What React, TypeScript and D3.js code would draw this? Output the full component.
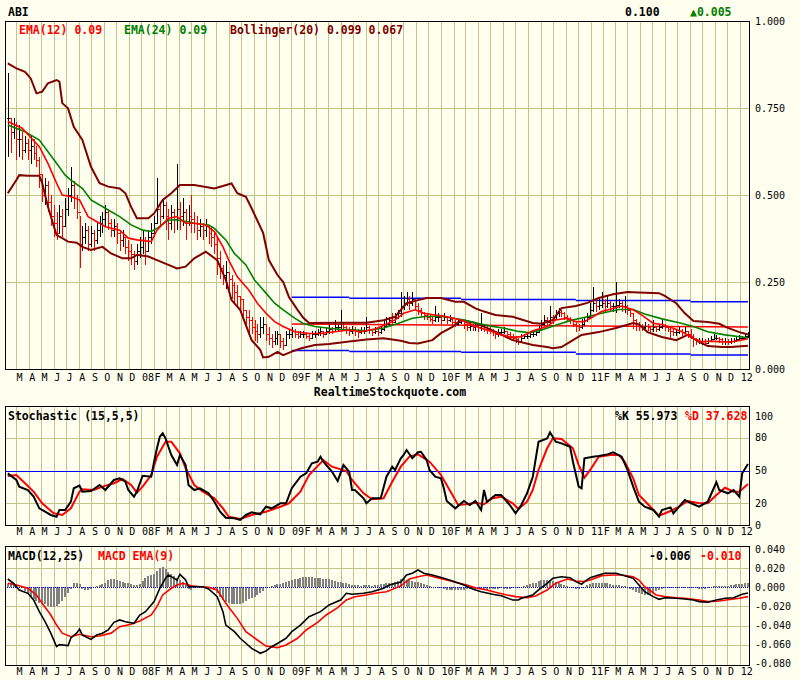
import React from 'react'
import * as d3 from 'd3'

// weekly bars, first bar is the week of 9 Feb 2007
const firstBar = new Date(2007, 1, 9)

const close = [
  // 2007
  0.72, 0.68, 0.70, 0.66, 0.66, 0.63, 0.65, 0.63, 0.64, 0.62, 0.60, 0.56, 0.50, 0.53, 0.48, 0.44,
  0.42, 0.39, 0.44, 0.41, 0.46, 0.50, 0.53, 0.49, 0.45, 0.36, 0.38, 0.40, 0.36, 0.39, 0.37, 0.40,
  0.42, 0.43, 0.45, 0.42, 0.40, 0.41, 0.39, 0.37, 0.38, 0.35, 0.34, 0.33, 0.31, 0.34, 0.35,
  // 2008
  0.37, 0.34, 0.38, 0.39, 0.42, 0.46, 0.44, 0.47, 0.44, 0.42, 0.45, 0.43, 0.46, 0.44, 0.45, 0.42,
  0.44, 0.43, 0.42, 0.40, 0.41, 0.40, 0.41, 0.39, 0.38, 0.36, 0.32, 0.29, 0.27, 0.28, 0.26, 0.24,
  0.22, 0.21, 0.20, 0.17, 0.15, 0.14, 0.12, 0.11, 0.10, 0.12, 0.13, 0.10, 0.09, 0.08, 0.09, 0.10,
  0.08, 0.07, 0.10,
  // 2009
  0.10, 0.11, 0.10, 0.095, 0.10, 0.10, 0.095, 0.09, 0.10, 0.10, 0.105, 0.11, 0.10, 0.11, 0.115, 0.11,
  0.12, 0.12, 0.13, 0.12, 0.115, 0.11, 0.115, 0.11, 0.105, 0.11, 0.11, 0.12, 0.115, 0.105, 0.11, 0.105,
  0.115, 0.125, 0.13, 0.14, 0.135, 0.15, 0.16, 0.18, 0.19, 0.20, 0.19, 0.20, 0.18, 0.17, 0.16, 0.155,
  0.15, 0.145, 0.14, 0.15,
  // 2010
  0.15, 0.14, 0.15, 0.14, 0.145, 0.135, 0.13, 0.135, 0.14, 0.13, 0.12, 0.125, 0.12, 0.125, 0.12, 0.13,
  0.12, 0.115, 0.11, 0.105, 0.10, 0.105, 0.105, 0.11, 0.10, 0.095, 0.09, 0.085, 0.08, 0.09, 0.095, 0.095,
  0.10, 0.10, 0.105, 0.115, 0.13, 0.14, 0.135, 0.15, 0.145, 0.16, 0.165, 0.16, 0.15, 0.145, 0.14, 0.13,
  0.125, 0.12, 0.13, 0.14,
  // 2011
  0.15, 0.17, 0.19, 0.18, 0.185, 0.19, 0.18, 0.19, 0.18, 0.18, 0.185, 0.19, 0.18, 0.18, 0.17, 0.16,
  0.14, 0.13, 0.125, 0.12, 0.125, 0.12, 0.115, 0.12, 0.115, 0.12, 0.125, 0.12, 0.115, 0.11, 0.105, 0.105,
  0.11, 0.105, 0.11, 0.10, 0.095, 0.085, 0.08, 0.08, 0.08, 0.075, 0.08, 0.085, 0.09, 0.09, 0.085, 0.08,
  0.08, 0.078, 0.08, 0.082,
  // 2012
  0.085, 0.09, 0.09, 0.095, 0.10,
]

const high = [
  0.85, 0.72, 0.72, 0.71, 0.70, 0.68, 0.67, 0.66, 0.67, 0.66, 0.64, 0.61, 0.56, 0.55, 0.54, 0.50,
  0.47, 0.45, 0.47, 0.46, 0.49, 0.52, 0.58, 0.54, 0.50, 0.44, 0.41, 0.42, 0.41, 0.41, 0.40, 0.42,
  0.44, 0.45, 0.47, 0.46, 0.43, 0.43, 0.42, 0.40, 0.40, 0.38, 0.37, 0.36, 0.34, 0.36, 0.38,
  0.40, 0.38, 0.40, 0.42, 0.44, 0.55, 0.48, 0.49, 0.48, 0.46, 0.47, 0.46, 0.59, 0.48, 0.49, 0.46,
  0.47, 0.50, 0.45, 0.44, 0.43, 0.42, 0.43, 0.41, 0.41, 0.39, 0.38, 0.34, 0.30, 0.31, 0.28, 0.27,
  0.25, 0.24, 0.21, 0.20, 0.17, 0.17, 0.15, 0.14, 0.13, 0.15, 0.15, 0.13, 0.12, 0.10, 0.11, 0.11,
  0.10, 0.09, 0.11,
  0.115, 0.12, 0.115, 0.11, 0.11, 0.11, 0.105, 0.10, 0.11, 0.11, 0.115, 0.12, 0.11, 0.12, 0.13, 0.12,
  0.14, 0.13, 0.17, 0.135, 0.125, 0.12, 0.125, 0.12, 0.115, 0.12, 0.12, 0.15, 0.125, 0.115, 0.12, 0.115,
  0.125, 0.14, 0.15, 0.15, 0.16, 0.16, 0.17, 0.22, 0.21, 0.22, 0.21, 0.22, 0.20, 0.19, 0.175, 0.165,
  0.16, 0.155, 0.15, 0.18,
  0.16, 0.155, 0.16, 0.15, 0.155, 0.145, 0.14, 0.145, 0.145, 0.14, 0.13, 0.135, 0.13, 0.135, 0.13, 0.16,
  0.13, 0.125, 0.12, 0.115, 0.11, 0.115, 0.115, 0.12, 0.11, 0.105, 0.10, 0.095, 0.09, 0.10, 0.10, 0.105,
  0.11, 0.11, 0.115, 0.125, 0.14, 0.155, 0.15, 0.18, 0.155, 0.17, 0.175, 0.17, 0.165, 0.155, 0.15, 0.14,
  0.135, 0.13, 0.145, 0.15,
  0.16, 0.19, 0.235, 0.20, 0.20, 0.22, 0.20, 0.21, 0.195, 0.19, 0.25, 0.20, 0.195, 0.21, 0.185, 0.175,
  0.16, 0.145, 0.135, 0.13, 0.135, 0.13, 0.125, 0.14, 0.125, 0.13, 0.14, 0.13, 0.125, 0.125, 0.115, 0.115,
  0.12, 0.115, 0.12, 0.11, 0.115, 0.10, 0.09, 0.09, 0.088, 0.085, 0.09, 0.095, 0.10, 0.098, 0.092, 0.088,
  0.088, 0.085, 0.088, 0.09,
  0.092, 0.098, 0.096, 0.103, 0.105,
]

const low = [
  0.61, 0.62, 0.66, 0.60, 0.61, 0.60, 0.62, 0.60, 0.59, 0.60, 0.58, 0.52, 0.48, 0.47, 0.45, 0.41,
  0.38, 0.37, 0.39, 0.38, 0.41, 0.44, 0.48, 0.46, 0.43, 0.29, 0.34, 0.36, 0.34, 0.35, 0.34, 0.36,
  0.38, 0.39, 0.41, 0.40, 0.38, 0.38, 0.36, 0.34, 0.35, 0.33, 0.31, 0.30, 0.285, 0.30, 0.32,
  0.33, 0.30, 0.34, 0.36, 0.38, 0.42, 0.41, 0.43, 0.40, 0.37, 0.40, 0.39, 0.40, 0.40, 0.41, 0.37,
  0.41, 0.39, 0.39, 0.37, 0.38, 0.37, 0.38, 0.36, 0.35, 0.33, 0.27, 0.26, 0.24, 0.23, 0.22, 0.20,
  0.19, 0.18, 0.17, 0.15, 0.12, 0.10, 0.10, 0.08, 0.075, 0.09, 0.10, 0.08, 0.07, 0.06, 0.07, 0.07,
  0.06, 0.055, 0.07,
  0.085, 0.09, 0.09, 0.085, 0.09, 0.09, 0.085, 0.08, 0.09, 0.09, 0.095, 0.095, 0.09, 0.10, 0.10, 0.10,
  0.105, 0.11, 0.11, 0.11, 0.10, 0.095, 0.10, 0.095, 0.09, 0.10, 0.10, 0.105, 0.10, 0.095, 0.10, 0.095,
  0.10, 0.11, 0.12, 0.125, 0.125, 0.135, 0.145, 0.15, 0.17, 0.18, 0.17, 0.18, 0.17, 0.155, 0.15, 0.14,
  0.14, 0.135, 0.13, 0.135,
  0.135, 0.13, 0.14, 0.13, 0.135, 0.125, 0.12, 0.125, 0.13, 0.115, 0.11, 0.11, 0.11, 0.11, 0.105, 0.11,
  0.105, 0.10, 0.10, 0.095, 0.085, 0.093, 0.095, 0.10, 0.09, 0.085, 0.08, 0.075, 0.07, 0.08, 0.085, 0.085,
  0.09, 0.093, 0.095, 0.105, 0.11, 0.125, 0.125, 0.13, 0.13, 0.145, 0.15, 0.15, 0.14, 0.135, 0.13, 0.12,
  0.105, 0.11, 0.115, 0.125,
  0.135, 0.15, 0.165, 0.165, 0.17, 0.175, 0.16, 0.175, 0.165, 0.165, 0.16, 0.175, 0.165, 0.16, 0.155, 0.15,
  0.115, 0.11, 0.11, 0.11, 0.115, 0.11, 0.105, 0.105, 0.105, 0.11, 0.115, 0.11, 0.105, 0.09, 0.095, 0.095,
  0.10, 0.095, 0.10, 0.09, 0.085, 0.063, 0.07, 0.072, 0.07, 0.068, 0.072, 0.078, 0.082, 0.083, 0.075, 0.07,
  0.07, 0.068, 0.072, 0.074,
  0.078, 0.082, 0.083, 0.087, 0.09,
]

// [week index, value]
const ema12: [number, number][] = [
  [0, .711], [5, .692], [11, .639], [14, .591], [17, .534], [19, .50], [22, .495], [25, .486], [28, .438],
  [32, .419], [34, .409], [39, .399], [42, .376], [45, .371], [50, .366], [52, .399], [56, .433], [59, .438],
  [62, .419], [65, .419], [69, .414], [72, .395], [75, .351], [77, .313], [80, .265], [84, .227], [87, .189],
  [90, .160], [93, .136], [96, .122], [100, .107], [105, .102], [109, .102], [114, .107], [119, .112],
  [123, .107], [128, .115], [131, .125], [135, .141], [138, .160], [142, .170], [145, .160], [149, .155],
  [152, .152], [154, .148], [158, .141], [162, .126], [165, .117], [169, .107], [172, .098], [176, .091],
  [179, .093], [183, .110], [188, .122], [191, .141], [195, .146], [198, .136], [201, .136], [204, .150],
  [207, .165], [211, .174], [214, .181], [218, .170], [221, .155], [225, .131], [228, .128], [232, .117],
  [235, .107], [239, .088], [242, .078], [245, .080], [249, .078], [252, .078], [255, .082], [258, .087],
]

const ema24: [number, number][] = [
  [0, .701], [6, .682], [11, .658], [17, .591], [20, .557], [22, .543], [26, .519], [29, .486], [34, .462],
  [39, .438], [43, .414], [47, .399], [50, .395], [52, .404], [56, .428], [59, .428], [63, .423], [65, .419],
  [70, .414], [72, .404], [76, .371], [79, .332], [83, .299], [86, .256], [90, .218], [93, .189], [96, .170],
  [100, .146], [103, .131], [107, .122], [112, .117], [116, .114], [121, .112], [125, .110], [131, .118],
  [136, .131], [141, .146], [145, .150], [150, .152], [154, .148], [159, .141], [164, .131], [168, .124],
  [173, .117], [178, .108], [182, .104], [186, .112], [191, .126], [196, .139], [202, .150], [207, .160],
  [213, .171], [218, .171], [222, .158], [228, .144], [234, .133], [239, .122], [244, .107], [250, .098],
  [258, .090],
]

const bbUpper: [number, number][] = [
  [0, .878], [3, .864], [6, .854], [8, .835], [10, .792], [12, .797], [14, .821], [17, .830], [18, .826],
  [19, .764], [21, .749], [23, .696], [26, .658], [29, .581], [32, .534], [35, .524], [39, .519], [41, .505],
  [43, .466], [45, .433], [49, .433], [51, .447], [54, .486], [57, .505], [60, .529], [65, .529], [72, .519],
  [78, .533], [80, .505], [83, .495], [85, .462], [89, .391], [91, .313], [94, .270], [96, .250], [98, .207],
  [101, .170], [103, .147], [105, .132], [115, .133], [125, .133], [131, .140], [135, .150], [137, .170],
  [139, .189], [143, .198], [146, .204], [151, .204], [156, .193], [159, .193], [163, .174], [166, .165],
  [170, .155], [176, .150], [183, .132], [186, .130], [190, .141], [193, .175], [198, .181], [202, .190],
  [206, .204], [211, .215], [216, .221], [220, .220], [227, .218], [229, .210], [233, .189], [236, .160],
  [239, .138], [244, .135], [248, .130], [251, .118], [255, .106], [258, .099],
]

const bbLower: [number, number][] = [
  [0, .505], [3, .543], [4, .557], [7, .555], [11, .555], [12, .534], [14, .466], [17, .385], [19, .376],
  [21, .366], [24, .363], [26, .351], [29, .342], [33, .351], [36, .332], [40, .318], [43, .318], [45, .328],
  [49, .323], [52, .313], [56, .299], [59, .289], [62, .294], [65, .318], [69, .337], [73, .313], [76, .256],
  [78, .198], [81, .170], [83, .126], [85, .083], [88, .055], [89, .033], [91, .035], [94, .049], [96, .040],
  [99, .050], [102, .059], [107, .069], [112, .072], [119, .079], [125, .085], [131, .088], [137, .081],
  [140, .075], [143, .073], [148, .083], [151, .103], [155, .121], [158, .141], [163, .132], [167, .118],
  [171, .103], [176, .083], [183, .069], [188, .063], [190, .060], [193, .063], [197, .083], [200, .098],
  [206, .106], [212, .118], [218, .132], [220, .128], [223, .106], [228, .092], [233, .083], [237, .098],
  [241, .078], [244, .066], [249, .063], [252, .063], [258, .067],
]

// support / resistance channel segments [fromWeek, toWeek, top, bottom]
const channel: [number, number, number, number][] = [
  [99, 119, .206, .053], [119, 158, .203, .050], [158, 198, .200, .048], [198, 238, .197, .043], [238, 258, .193, .040],
]
const trendLine: [number, number][] = [[99, .129], [258, .121]]

const stochK: [number, number][] = [
  [0, 47.4], [3, 41.3], [4, 35.2], [7, 32.1], [9, 26], [11, 15.3], [13, 12.2], [15, 9.2], [17, 7.6], [18, 13.8],
  [20, 13.8], [22, 21.4], [23, 33.7], [25, 36.1], [26, 30.6], [29, 31.2], [32, 36.7], [34, 32.1], [37, 41.3],
  [39, 42.8], [41, 39.7], [42, 32.1], [44, 26], [45, 30.6], [47, 45.2], [50, 44.3], [51, 58.1], [52, 70.4],
  [53, 81], [54, 84.1], [55, 79.5], [57, 64.2], [59, 55], [60, 64.2], [62, 55], [63, 36.7], [65, 32.1],
  [67, 33.7], [70, 29.1], [72, 21.4], [74, 12.2], [76, 6.7], [79, 6.1], [81, 4.6], [83, 9.2], [85, 11.6],
  [88, 9.8], [90, 16.8], [92, 15.3], [95, 19.9], [97, 19.9], [99, 33.7], [102, 44.3], [104, 47.4], [106, 56.6],
  [108, 58.1], [109, 62.7], [110, 58.1], [113, 48.9], [115, 40.4], [117, 55], [119, 48.9], [120, 32.1],
  [121, 32.1], [124, 24.5], [125, 19.9], [127, 24.5], [130, 24.5], [132, 44.3], [134, 53.5], [135, 50.5],
  [137, 61.2], [138, 64.2], [139, 68.8], [141, 61.2], [143, 66.7], [144, 67.2], [146, 59.6], [147, 50.5],
  [149, 44.3], [151, 42.8], [152, 33.7], [153, 22], [156, 15.3], [159, 22], [161, 18.3], [163, 22],
  [165, 13.8], [166, 32.1], [167, 21.4], [170, 27.5], [172, 27.5], [175, 18.3], [177, 10.7], [179, 18.3],
  [181, 29.1], [183, 44.3], [185, 76.4], [188, 79.5], [189, 85], [191, 76.4], [193, 74.9], [196, 71.8],
  [197, 58.1], [199, 35.2], [200, 33.7], [201, 61.2], [204, 62.7], [206, 63.3], [209, 64.8], [211, 66.7],
  [214, 62.7], [216, 50.5], [218, 35.2], [220, 21.4], [222, 16.8], [225, 13.8], [227, 7.6], [228, 13.8],
  [231, 16.2], [232, 10.7], [234, 16.8], [236, 22.9], [239, 19], [241, 16.8], [244, 21.4], [247, 39.2],
  [248, 32.1], [251, 29.1], [253, 32.1], [255, 26], [256, 47.4], [258, 55.973],
]

const stochD: [number, number][] = [
  [0, 45], [3, 45.9], [6, 38.3], [9, 30.6], [12, 19.9], [16, 10.7], [19, 9.2], [22, 15.3], [25, 30.6],
  [26, 32.7], [30, 32.1], [33, 35.2], [37, 38.3], [40, 42.2], [43, 36.7], [45, 29.7], [47, 35.2], [50, 45.9],
  [52, 62.7], [55, 76.4], [57, 76.4], [60, 65.8], [62, 52], [65, 36.7], [68, 30.6], [72, 24.5], [75, 15.3],
  [77, 7.6], [81, 5.5], [85, 9.2], [90, 12.2], [95, 16.8], [98, 19.9], [102, 30.6], [105, 45.9], [110, 59.6],
  [113, 53.5], [118, 49.5], [120, 41.3], [124, 29.1], [127, 23.6], [131, 24.5], [134, 39.7], [137, 53.5],
  [140, 62.7], [143, 64.8], [147, 58.1], [151, 45.9], [154, 32.1], [157, 18.3], [160, 19], [163, 20.5],
  [166, 19], [169, 24.5], [172, 26], [176, 19.9], [178, 14.7], [181, 21.4], [183, 32.1], [185, 50.5],
  [188, 70.4], [190, 79.5], [193, 78.9], [197, 70.4], [199, 55], [201, 43.4], [203, 50.5], [206, 62.7],
  [210, 64.2], [213, 64.2], [215, 58.1], [218, 42.8], [220, 27.5], [224, 16.8], [227, 8.5], [231, 12.8],
  [234, 16.8], [237, 22], [241, 19.9], [244, 19.9], [247, 27.5], [250, 34.2], [253, 30.6], [255, 30.6],
  [258, 37.628],
]

const macd: [number, number][] = [
  [0, .0087], [2, .0042], [4, -.0028], [7, -.0063], [9, -.0133], [11, -.0255], [13, -.036], [15, -.048],
  [16, -.055], [17, -.062], [18, -.060], [21, -.061], [22, -.053], [24, -.048], [25, -.0437], [26, -.050],
  [29, -.0545], [31, -.050], [33, -.048], [35, -.0447], [37, -.0367], [39, -.0342], [41, -.036], [44, -.0377],
  [46, -.029], [48, -.0255], [51, -.015], [53, -.001], [55, .0094], [56, .0129], [58, .0094], [59, .0076],
  [60, .0136], [62, .0076], [63, .0006], [66, .0006], [68, .0006], [70, -.0018], [73, -.0098], [75, -.0255],
  [76, -.0395], [79, -.0465], [81, -.0534], [83, -.0586], [85, -.0639], [88, -.0691], [90, -.0667],
  [92, -.0622], [95, -.057], [97, -.0534], [99, -.0465], [102, -.0395], [105, -.0308], [109, -.0255],
  [112, -.0185], [116, -.0133], [118, -.0063], [120, -.0073], [124, -.0063], [127, -.0046], [131, -.001],
  [133, .0024], [137, .0055], [139, .0129], [141, .0147], [143, .0181], [145, .0147], [148, .0129],
  [152, .0094], [155, .0066], [159, .0024], [162, -.0018], [165, -.0046], [169, -.0073], [172, -.0088],
  [176, -.0133], [178, -.0133], [179, -.0115], [183, -.008], [185, -.0028], [188, .0042], [190, .0094],
  [193, .0111], [196, .0101], [198, .0059], [200, .0031], [201, .0059], [203, .0101], [206, .0129],
  [208, .0147], [212, .0147], [215, .0122], [218, .0094], [220, .0024], [222, -.0046], [225, -.0098],
  [227, -.0126], [229, -.0109], [233, -.0115], [236, -.0122], [239, -.0133], [241, -.015], [244, -.0157],
  [247, -.0133], [250, -.0115], [253, -.0109], [256, -.0073], [258, -.006],
]

const macdSignal: [number, number][] = [
  [0, .0042], [3, .0024], [7, -.001], [10, -.008], [12, -.0168], [15, -.029], [17, -.0395], [19, -.048],
  [22, -.0517], [25, -.0492], [29, -.0517], [32, -.051], [36, -.048], [39, -.0412], [43, -.0387],
  [46, -.0353], [50, -.029], [52, -.0203], [54, -.008], [57, -.001], [59, .0024], [61, .0042], [64, .0017],
  [67, .0006], [70, 0], [73, -.0028], [76, -.0168], [80, -.0325], [83, -.0465], [87, -.0552], [90, -.0615],
  [94, -.0632], [97, -.0604], [101, -.0534], [104, -.0447], [108, -.0367], [111, -.029], [115, -.0213],
  [118, -.0133], [121, -.0098], [125, -.008], [128, -.0063], [132, -.0046], [137, .0015], [140, .0087],
  [143, .0111], [146, .0129], [149, .0105], [153, .0076], [156, .0052], [160, .0024], [163, -.0004],
  [167, -.0028], [170, -.0052], [174, -.008], [177, -.0098], [181, -.0109], [184, -.0091], [188, -.0028],
  [191, .0042], [195, .0087], [198, .0066], [201, .0059], [204, .0087], [207, .0122], [211, .0129],
  [214, .0129], [218, .0111], [220, .0076], [222, .0006], [226, -.008], [229, -.0098], [233, -.0109],
  [236, -.0115], [241, -.0133], [244, -.015], [248, -.0143], [251, -.013], [255, -.0115], [258, -.0098],
]

// weekly MACD histogram
const macdHist = [
  .003, .004, .004, .003, 0, -.001, -.004, -.007, -.010, -.012, -.014, -.016, -.018, -.018, -.020, -.021,
  -.021, -.020, -.017, -.014, -.010, -.006, -.002, .004, .005, .003, -.002, -.003, -.003, -.002, 0, .001,
  .002, .003, .005, .008, .009, .009, .008, .007, .006, .005, .004, .003, .002, .002, .003, .007,
  .010, .012, .013, .014, .017, .020, .021, .019, .016, .014, .012, .010, .008, .006, .002, -.002,
  -.003, -.001, .001, .001, .001, 0, 0, -.001, -.003, -.006, -.010, -.013, -.015, -.016, -.017, -.018,
  -.018, -.017, -.016, -.014, -.012, -.011, -.010, -.008, -.006, -.004, -.001, 0, .001, .002, .003, .003,
  .005, .006, .007, .008, .009, .009, .010, .011, .011, .011, .011, .010, .010, .010, .009, .009,
  .009, .008, .007, .006, .006, .005, .004, .003, .002, .002, .002, .001, .002, .002, .002, .001,
  .002, .002, .003, .003, .004, .004, .005, .006, .007, .009, .009, .008, .008, .007, .006, .006,
  .004, .003, .002, .001, 0, 0, -.001, -.001, -.002, -.003, -.003, -.003, -.003, -.003, -.003, -.003,
  -.002, -.002, -.002, -.002, -.002, -.002, -.002, -.003, -.002, -.002, -.002, -.002, -.001, -.002, -.002, -.002,
  -.001, -.001, -.001, 0, .001, .002, .003, .004, .005, .007, .008, .008, .008, .007, .007, .006,
  .005, .003, .002, .001, 0, -.001, -.002, -.002, -.001, 0, .002, .003, .004, .004, .004, .004,
  .004, .004, .003, .002, .002, .002, .001, .001, 0, -.002, -.003, -.005, -.006, -.007, -.008, -.008,
  -.007, -.005, -.004, -.003, -.002, -.001, -.001, -.001, -.001, -.001, -.001, -.001, -.001, -.001, -.001, -.001,
  -.001, -.002, -.002, -.002, -.001, 0, .001, .001, .001, .001, .001, .001, .002, .002, .003, .003,
  .003, .004, .004,
]

const priceTicks = [0, 0.25, 0.5, 0.75, 1]
const stochTicks = [0, 20, 50, 80, 100]
const macdTicks = [0.04, 0.02, 0, -0.02, -0.04, -0.06, -0.08]
const monthLetters = 'JFMAMJJASOND'

const BG = '#FFFFF0'
const GRID = '#C3C38A'
const MAROON = '#800000'
const FONT = "'DejaVu Sans Mono', monospace"

const L = 5
const R = 750
const barDate = (i: number) => d3.timeDay.offset(firstBar, i * 7)
const x = d3.scaleTime().domain([new Date(2007, 1, 1), new Date(2012, 0, 25)]).range([4.5, R])
const months = d3.timeMonth.range(new Date(2007, 2, 1), new Date(2012, 1, 1))
const snap = (v: number) => Math.round(v) + 0.5

const yPrice = d3.scaleLinear().domain([0, 1]).range([369, 21])
const yStoch = d3.scaleLinear().domain([0, 100]).range([525, 416])
const yMacd = d3.scaleLinear().domain([-0.08, 0.04]).range([663.7, 549.1])

const pathOf = (data: [number, number][], y: d3.ScaleLinear<number, number>) =>
  d3.line<[number, number]>().x(d => x(barDate(d[0]))).y(d => y(d[1]))(data) || ''

const Grid = ({ top, bottom, hLines, y }: { top: number; bottom: number; hLines: number[]; y: d3.ScaleLinear<number, number> }) => (
  <g stroke={GRID} strokeWidth={1} shapeRendering="crispEdges">
    {months.map((m, i) => (
      <line key={i} x1={snap(x(m))} x2={snap(x(m))} y1={top} y2={bottom} />
    ))}
    {hLines.map(v => (
      <line key={v} x1={L} x2={R} y1={snap(y(v))} y2={snap(y(v))} />
    ))}
  </g>
)

const MonthLabels = ({ y }: { y: number }) => (
  <g fontSize={10} fill="#000">
    {months.map((m, i) => (
      <text key={i} x={x(m) + 0.5} y={y}>
        {m.getMonth() === 0 ? d3.timeFormat('%y')(m) : monthLetters[m.getMonth()]}
      </text>
    ))}
  </g>
)

const Frame = ({ top, bottom }: { top: number; bottom: number }) => (
  <rect x={L + 0.5} y={top + 0.5} width={R - L - 1} height={bottom - top - 1} fill="none" stroke="#000" strokeWidth={1} shapeRendering="crispEdges" />
)

const Bars = () => {
  let up = ''
  let down = ''
  close.forEach((c, i) => {
    const px = snap(x(barDate(i)))
    const open = i > 0 ? close[i - 1] : c
    const seg = `M${px},${yPrice(high[i])}V${yPrice(low[i])}M${px - 1.5},${snap(yPrice(open))}H${px}M${px},${snap(yPrice(c))}H${px + 1.5}`
    if (i > 0 && c < close[i - 1]) down += seg
    else up += seg
  })
  return (
    <g fill="none" strokeWidth={1} shapeRendering="crispEdges">
      <path d={up} stroke="#000" />
      <path d={down} stroke="#FF0000" />
    </g>
  )
}

export default function App() {
  const last = close.length - 1
  const change = close[last] - close[last - 1]
  const lastOf = (s: [number, number][]) => s[s.length - 1][1]

  return (
    <svg width={800} height={680} style={{ position: 'absolute', left: 0, top: 0, display: 'block' }} fontFamily={FONT}>
      <defs>
        <clipPath id="clipMain"><rect x={L} y={21} width={R - L} height={348} /></clipPath>
        <clipPath id="clipMacd"><rect x={L} y={546} width={R - L} height={119} /></clipPath>
      </defs>
      <rect width={800} height={680} fill={BG} />

      {/* ---------- price panel ---------- */}
      <Grid top={21} bottom={369} hLines={[0.25, 0.5, 0.75]} y={yPrice} />
      <g clipPath="url(#clipMain)">
        <g stroke="#0000FF" strokeWidth={1.5}>
          {channel.map((s, i) => (
            <g key={i}>
              <line x1={x(barDate(s[0]))} x2={x(barDate(s[1]))} y1={yPrice(s[2])} y2={yPrice(s[2])} />
              <line x1={x(barDate(s[0]))} x2={x(barDate(s[1]))} y1={yPrice(s[3])} y2={yPrice(s[3])} />
            </g>
          ))}
        </g>
        <path d={pathOf(trendLine, yPrice)} stroke="#FF0000" strokeWidth={1.5} fill="none" />
        <Bars />
        <path d={pathOf(bbUpper, yPrice)} stroke={MAROON} strokeWidth={2} fill="none" />
        <path d={pathOf(bbLower, yPrice)} stroke={MAROON} strokeWidth={2} fill="none" />
        <path d={pathOf(ema24, yPrice)} stroke="#008000" strokeWidth={1.6} fill="none" />
        <path d={pathOf(ema12, yPrice)} stroke="#FF0000" strokeWidth={1.6} fill="none" />
      </g>
      <Frame top={21} bottom={370} />
      <g fontSize={10}>
        {priceTicks.map(v => (
          <text key={v} x={755} y={yPrice(v) + 3.5}>{v.toFixed(3)}</text>
        ))}
      </g>
      <MonthLabels y={381} />
      <g fontSize={11.5} fontWeight="bold">
        <text x={8} y={16}>ABI</text>
        <text x={625} y={16}>{close[last].toFixed(3)}</text>
        <text x={690} y={16} fill="#008000">{'\u25B2' + change.toFixed(3)}</text>
        <text x={19} y={34} fill="#FF0000">{`EMA(12) ${lastOf(ema12).toFixed(2)}`}</text>
        <text x={124} y={34} fill="#008000">{`EMA(24) ${lastOf(ema24).toFixed(2)}`}</text>
        <text x={230} y={34} fill={MAROON}>{`Bollinger(20) ${lastOf(bbUpper).toFixed(3)} ${lastOf(bbLower).toFixed(3)}`}</text>
        <text x={390} y={396} textAnchor="middle">RealtimeStockquote.com</text>
      </g>

      {/* ---------- stochastic panel ---------- */}
      <Grid top={406} bottom={525} hLines={[20, 80]} y={yStoch} />
      <line x1={L} x2={R} y1={snap(yStoch(50))} y2={snap(yStoch(50))} stroke="#0000FF" strokeWidth={1.2} />
      <path d={pathOf(stochD, yStoch)} stroke="#FF0000" strokeWidth={2} fill="none" />
      <path d={pathOf(stochK, yStoch)} stroke="#000" strokeWidth={2} fill="none" />
      <Frame top={406} bottom={526} />
      <g fontSize={10}>
        {stochTicks.map(v => (
          <text key={v} x={755} y={yStoch(v) + 3.5}>{v}</text>
        ))}
      </g>
      <MonthLabels y={535} />
      <g fontSize={11.5} fontWeight="bold">
        <text x={8} y={420}>Stochastic (15,5,5)</text>
        <text x={615} y={420}>{`%K ${lastOf(stochK).toFixed(3)}`}</text>
        <text x={685} y={420} fill="#FF0000">{`%D ${lastOf(stochD).toFixed(3)}`}</text>
      </g>

      {/* ---------- MACD panel ---------- */}
      <Grid top={546} bottom={665} hLines={[0.02, -0.02, -0.04, -0.06]} y={yMacd} />
      <g clipPath="url(#clipMacd)">
        <g fill="#808080" shapeRendering="crispEdges">
          {macdHist.map((v, i) => {
            const px = Math.round(x(barDate(i)))
            const y0 = yMacd(0)
            const y1 = yMacd(v)
            return <rect key={i} x={px - 1} y={Math.min(y0, y1)} width={2} height={Math.abs(y1 - y0)} />
          })}
        </g>
        <line x1={L} x2={R} y1={snap(yMacd(0))} y2={snap(yMacd(0))} stroke="#0000FF" strokeWidth={1} strokeDasharray="1,1" shapeRendering="crispEdges" />
        <path d={pathOf(macdSignal, yMacd)} stroke="#FF0000" strokeWidth={1.6} fill="none" />
        <path d={pathOf(macd, yMacd)} stroke="#000" strokeWidth={1.6} fill="none" />
      </g>
      <Frame top={546} bottom={666} />
      <g fontSize={10}>
        {macdTicks.map(v => (
          <text key={v} x={755} y={yMacd(v) + 3.5}>{v.toFixed(3).replace('-0.000', '0.000')}</text>
        ))}
      </g>
      <MonthLabels y={675} />
      <g fontSize={11.5} fontWeight="bold">
        <text x={8} y={560}>MACD(12,25)</text>
        <text x={98} y={560} fill="#FF0000">MACD EMA(9)</text>
        <text x={649} y={560}>{lastOf(macd).toFixed(3)}</text>
        <text x={700} y={560} fill="#FF0000">{lastOf(macdSignal).toFixed(3)}</text>
      </g>
    </svg>
  )
}
